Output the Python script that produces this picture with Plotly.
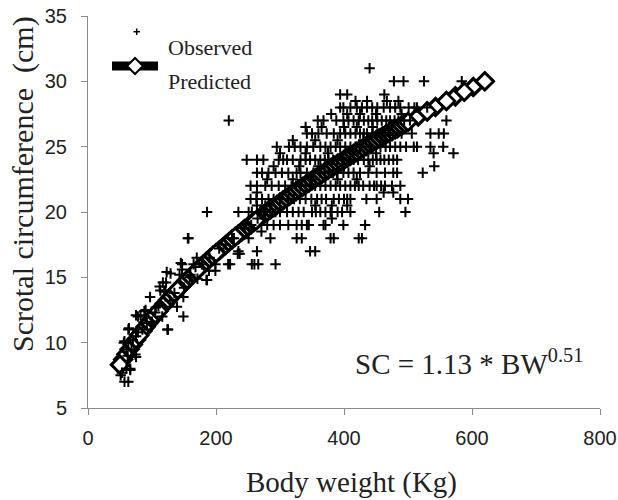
import plotly.graph_objects as go

# ---------------- data ----------------
# Observed scrotal circumference grouped by recorded SC value (cm) -> body weights (kg)
obs_sc_levels = [31, 30, 29, 28.5, 28, 27.5, 27, 26.5, 26, 25.5, 25, 24.5, 24, 23.5,
                 23, 22.5, 22, 21.5, 21, 20.5, 20, 19.5, 19, 18.5, 18, 17, 16]
obs_bw_by_level = [
    [440],
    [478, 493, 525, 584],
    [394, 405, 463],
    [418, 436, 467, 485],
    [394, 399, 410, 420, 428, 436, 444, 452, 462, 472, 480, 488, 501, 510, 514, 530],
    [380, 405, 425, 450, 490],
    [220, 359, 368, 388, 399, 407, 415, 423, 431, 438, 444, 452, 459, 466, 472, 479, 485,
     494, 503, 560],
    [340, 365, 400, 420, 445, 470],
    [342, 350, 360, 373, 384, 394, 402, 410, 418, 425, 431, 436, 444, 452, 458, 465, 472,
     483, 490, 506, 535, 548, 556],
    [320, 355, 390, 430, 460],
    [295, 314, 323, 332, 342, 352, 363, 371, 379, 387, 394, 402, 410, 418, 425, 440, 457,
     465, 472, 480, 488, 497, 509, 514, 535, 555],
    [300, 340, 375, 415, 450, 540, 571],
    [248, 264, 274, 298, 305, 311, 320, 332, 340, 347, 355, 363, 370, 376, 383, 389, 397,
     404, 410, 415, 422, 431, 438, 445, 451, 457, 463, 470, 477, 483],
    [290, 330, 360, 400, 440, 541],
    [264, 272, 282, 293, 303, 313, 326, 332, 342, 352, 363, 370, 376, 383, 389, 399, 407,
     415, 425, 438, 451, 464, 477, 483, 523],
    [280, 320, 350, 390, 420],
    [254, 264, 277, 287, 298, 308, 318, 325, 332, 340, 347, 355, 363, 371, 379, 387, 394,
     402, 410, 417, 423, 430, 440, 447, 451, 458, 464, 475, 488],
    [264, 462, 477],
    [254, 263, 272, 282, 290, 300, 313, 322, 331, 340, 349, 358, 365, 372, 384, 392, 400,
     405, 410, 435, 451, 488, 500],
    [264, 277, 355, 381, 405],
    [186, 235, 251, 256, 269, 277, 285, 293, 300, 311, 320, 329, 337, 350, 356, 363, 371,
     379, 390, 397, 410, 455, 496],
    [381],
    [243, 280, 290, 300, 313, 326, 334, 342, 345, 368, 371, 399, 433],
    [271],
    [157, 228, 251, 285, 326, 334, 379, 384, 423, 428],
    [235, 264, 347, 355],
    [147, 165, 199, 219, 222, 256, 260, 266, 293],
]

# Observed points off the main rows (mostly the young / light animals)
obs_bw_other = [237, 189, 129, 147, 143, 159, 171, 186, 112, 119, 97, 149, 149, 125, 106,
                116, 75, 82, 88, 63, 57, 63, 75, 60, 66, 51, 57, 63, 156, 234, 145, 170,
                123, 199, 185, 117, 122, 113, 121, 139, 78, 90, 124, 64, 56, 74, 53, 66,
                60, 62, 68, 70, 75, 78, 85, 92, 100, 105, 110, 128, 135, 150, 160, 168,
                178, 190, 205, 215, 225, 245, 255, 265, 275, 285]
obs_sc_other = [16.8, 15.5, 15.3, 15.6, 15.2, 15.0, 14.9, 14.8, 14.3, 13.9, 13.5, 13.5, 12,
                11, 12.7, 12, 12.1, 12.1, 12.4, 11, 10.1, 10, 8.9, 8, 8, 7.5, 7, 7, 18,
                16.8, 16.1, 16.5, 15.4, 15.5, 14.8, 14.6, 14.6, 14, 14, 12.75, 12, 12.5, 11,
                11.1, 10, 9.1, 7.7, 7.9,
                9.5, 9, 9.5, 10.2, 10.5, 10.8, 11, 11.5, 11.6, 12.3, 12.8, 13.2, 13.8, 14.2,
                15.2, 15.8, 16, 16.5, 17.2, 17.5, 18, 18.8, 19, 19.5, 20, 20.5]

# Predicted values (SC = 1.13 * BW^0.51).
pred_bw = [50, 55, 60, 65, 70, 75, 80, 85, 90, 95, 100, 105, 110, 115, 120, 125, 130, 135,
           140, 145, 150, 155, 160, 165, 170, 175, 180, 185, 190, 195, 200, 205, 210, 215,
           220, 225, 230, 235, 240, 245, 250, 255, 260, 265, 270, 275, 280, 285, 290, 295,
           300, 305, 310, 315, 320, 325, 330, 335, 340, 345, 350, 355, 360, 365, 370, 375,
           380, 385, 390, 395, 400, 405, 410, 415, 420, 425, 430, 435, 440, 445, 450, 455,
           460, 465, 470, 475, 480, 485, 490, 495, 500, 516, 530, 543, 560, 574, 588, 602, 620]
pred_sc = [8.31, 8.72, 9.12, 9.50, 9.86, 10.22, 10.56, 10.89, 11.21, 11.53, 11.83, 12.13,
           12.42, 12.70, 12.98, 13.26, 13.53, 13.79, 14.05, 14.30, 14.55, 14.80, 15.04, 15.28,
           15.51, 15.74, 15.97, 16.20, 16.42, 16.64, 16.85, 17.06, 17.27, 17.48, 17.69, 17.90,
           18.10, 18.30, 18.49, 18.69, 18.88, 19.07, 19.26, 19.45, 19.64, 19.83, 20.01, 20.19,
           20.36, 20.54, 20.72, 20.90, 21.07, 21.25, 21.42, 21.59, 21.75, 21.92, 22.09, 22.25,
           22.41, 22.58, 22.74, 22.90, 23.06, 23.22, 23.38, 23.54, 23.69, 23.84, 23.99, 24.15,
           24.30, 24.45, 24.60, 24.75, 24.90, 25.05, 25.19, 25.34, 25.48, 25.63, 25.77, 25.91,
           26.05, 26.19, 26.33, 26.47, 26.61, 26.75, 26.89, 27.32, 27.70, 28.04, 28.49, 28.85,
           29.20, 29.56, 30.00]
# predicted diamonds that lie on top of the chain (drawn last)
pred_bw_front = [50, 80, 110, 140, 170, 200, 230, 262, 500, 530, 560, 588, 620]
pred_sc_front = [8.31, 10.56, 12.42, 14.05, 15.51, 16.85, 18.10, 19.34, 26.89, 27.70, 28.49,
                 29.20, 30.00]

x_ticks = [0, 200, 400, 600, 800]
y_ticks = [5, 10, 15, 20, 25, 30, 35]

# ---------------- build ----------------
obs_bw, obs_sc = [], []
for lvl, bws in zip(obs_sc_levels, obs_bw_by_level):
    for b in bws:
        obs_bw.append(b)
        obs_sc.append(lvl)
obs_bw += obs_bw_other
obs_sc += obs_sc_other

diamond_dense = dict(symbol="diamond", size=13, color="white", line=dict(color="black", width=3.3))
diamond_front = dict(symbol="diamond", size=13, color="white", line=dict(color="black", width=2.6))

fig = go.Figure()
fig.add_trace(go.Scatter(
    x=pred_bw, y=pred_sc, mode="lines+markers", name="Predicted", showlegend=False,
    line=dict(color="black", width=8), marker=diamond_dense,
))
fig.add_trace(go.Scatter(
    x=pred_bw_front, y=pred_sc_front, mode="markers", name="Predicted", showlegend=False,
    marker=diamond_front,
))
fig.add_trace(go.Scatter(
    x=obs_bw, y=obs_sc, mode="markers", name="Observed", showlegend=False,
    marker=dict(symbol="cross-thin", size=7.5, color="black", line=dict(color="black", width=2)),
))

W, H = 618, 500
L, R, T, B = 88, 18, 16, 92
PW, PH = W - L - R, H - T - B


def px(x):
    return (x - L) / PW


def py(y):
    return (T + PH - y) / PH


serif = "Liberation Serif, Times New Roman, serif"
sans = "Liberation Sans, Arial, sans-serif"
axis_col = "#8a8a8a"

shapes = [
    # legend: observed "+"
    dict(type="line", xref="paper", yref="paper", x0=px(133.5), x1=px(140), y0=py(31.7), y1=py(31.7),
         line=dict(color="black", width=1.5)),
    dict(type="line", xref="paper", yref="paper", x0=px(136.7), x1=px(136.7), y0=py(28.5), y1=py(35),
         line=dict(color="black", width=1.5)),
    # legend: predicted line with diamond
    dict(type="line", xref="paper", yref="paper", x0=px(112), x1=px(158), y0=py(66), y1=py(66),
         line=dict(color="black", width=9)),
    dict(type="path", xref="paper", yref="paper",
         path=f"M {px(127)},{py(66)} L {px(135)},{py(58)} L {px(143)},{py(66)} L {px(135)},{py(74)} Z",
         fillcolor="white", line=dict(color="black", width=2)),
]

annotations = [
    dict(text="Observed", xref="paper", yref="paper", x=px(166), y=py(48), xanchor="left",
         yanchor="middle", showarrow=False, font=dict(family=serif, size=22, color="#222")),
    dict(text="Predicted", xref="paper", yref="paper", x=px(166), y=py(81), xanchor="left",
         yanchor="middle", showarrow=False, font=dict(family=serif, size=22, color="#222")),
    dict(text="SC = 1.13 * BW<sup>0.51</sup>", xref="paper", yref="paper", x=px(353), y=py(362),
         xanchor="left", yanchor="middle", showarrow=False,
         font=dict(family=serif, size=29, color="#222")),
    dict(text="Body weight (Kg)", xref="paper", yref="paper", x=px(351), y=py(482),
         xanchor="center", yanchor="middle", showarrow=False,
         font=dict(family=serif, size=29, color="#222")),
    dict(text="Scrotal circumference\u00a0 (cm)", xref="paper", yref="paper", x=px(23), y=py(184),
         xanchor="center", yanchor="middle", textangle=-90, showarrow=False,
         font=dict(family=serif, size=30, color="#222")),
]

fig.update_layout(
    width=W, height=H,
    margin=dict(l=L, r=R, t=T, b=B, pad=0),
    paper_bgcolor="white", plot_bgcolor="white",
    shapes=shapes, annotations=annotations,
    showlegend=False,
)
fig.update_xaxes(
    range=[0, 800], tickvals=x_ticks, ticktext=[str(v) for v in x_ticks],
    showgrid=False, zeroline=False, showline=True, linecolor=axis_col, linewidth=1,
    ticks="outside", ticklen=6, tickcolor=axis_col, tickwidth=1,
    tickfont=dict(family=sans, size=20, color="#222"), ticklabelstandoff=6,
    automargin=False,
)
fig.update_yaxes(
    range=[5, 35], tickvals=y_ticks, ticktext=[str(v) for v in y_ticks],
    showgrid=False, zeroline=False, showline=True, linecolor=axis_col, linewidth=1,
    ticks="outside", ticklen=6, tickcolor=axis_col, tickwidth=1,
    tickfont=dict(family=sans, size=20, color="#222"), ticklabelstandoff=10,
    automargin=False,
)

fig.write_html(
    "out.html",
    config={"displayModeBar": False},
    post_script="document.body.style.margin='0';document.documentElement.style.overflow='hidden';",
)
